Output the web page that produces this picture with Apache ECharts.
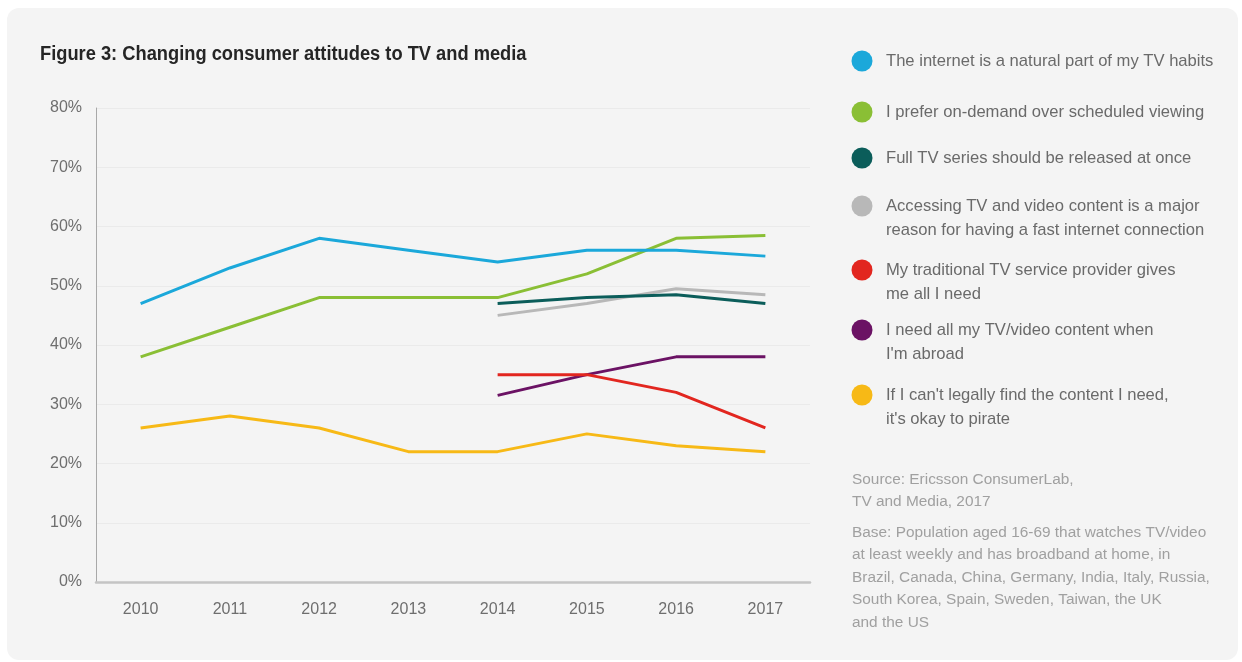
<!DOCTYPE html>
<html>
<head>
<meta charset="utf-8">
<title>Changing consumer attitudes to TV and media</title>
<script src="https://cdn.jsdelivr.net/npm/echarts@6/dist/echarts.min.js"></script>
<style>
  html, body { margin: 0; padding: 0; background: #ffffff; }
  #chart { width: 1242px; height: 662px; }
</style>
</head>
<body>
<div id="chart"></div>
<script>
// Survey years on the x axis
const years = ['2010', '2011', '2012', '2013', '2014', '2015', '2016', '2017'];

// Share of respondents agreeing with each statement (%)
const internetHabits   = [47, 53, 58, 56, 54, 56, 56, 55];
const onDemand         = [38, 43, 48, 48, 48, 52, 58, 58.5];
const fullSeries       = [null, null, null, null, 47, 48, 48.5, 47];
const fastConnection   = [null, null, null, null, 45, 47, 49.5, 48.5];
const traditionalTV    = [null, null, null, null, 35, 35, 32, 26];
const contentAbroad    = [null, null, null, null, 31.5, 35, 38, 38];
const okayToPirate     = [26, 28, 26, 22, 22, 25, 23, 22];

// Statement wording (legend), one entry per series
const statements = [
  'The internet is a natural part of my TV habits',
  'I prefer on-demand over scheduled viewing',
  'Full TV series should be released at once',
  'Accessing TV and video content is a major\nreason for having a fast internet connection',
  'My traditional TV service provider gives\nme all I need',
  'I need all my TV/video content when\nI\'m abroad',
  'If I can\'t legally find the content I need,\nit\'s okay to pirate'
];

const seriesData = [internetHabits, onDemand, fullSeries, fastConnection, traditionalTV, contentAbroad, okayToPirate];
const colors = ['#1ba8da', '#8abf35', '#0b5d5a', '#b8b8b8', '#e2261f', '#6b1264', '#f7b916'];

// Y axis range and step (%)
const yMin = 0, yMax = 80, yStep = 10;

const titleText = 'Figure 3: Changing consumer attitudes to TV and media';
const sourceText = 'Source: Ericsson ConsumerLab,\nTV and Media, 2017';
const baseText = 'Base: Population aged 16-69 that watches TV/video\nat least weekly and has broadband at home, in\nBrazil, Canada, China, Germany, India, Italy, Russia,\nSouth Korea, Spain, Sweden, Taiwan, the UK\nand the US';

const FONT = '"Liberation Sans", Arial, Helvetica, sans-serif';

// Legend rows: vertical centre of each entry's first line
const legendRowY = [61, 112, 158, 206, 270, 330, 395];

const chart = echarts.init(document.getElementById('chart'), null, { renderer: 'canvas' });

const graphics = [
  {
    type: 'rect',
    z: -10,
    silent: true,
    shape: { x: 7, y: 8, width: 1231, height: 652, r: 12 },
    style: { fill: '#f4f4f4' }
  },
  {
    type: 'text',
    x: 40, y: 54,
    scaleY: 1.1,
    style: {
      text: titleText,
      font: 'bold 18.3px ' + FONT,
      fill: '#252525',
      verticalAlign: 'middle'
    }
  },
  {
    type: 'text',
    x: 852, y: 468,
    style: {
      text: sourceText,
      font: '15.4px ' + FONT,
      fill: '#a0a0a0',
      lineHeight: 22.5,
      verticalAlign: 'top'
    }
  },
  {
    type: 'text',
    x: 852, y: 521,
    style: {
      text: baseText,
      font: '15.4px ' + FONT,
      fill: '#a0a0a0',
      lineHeight: 22.5,
      verticalAlign: 'top'
    }
  }
];

statements.forEach(function (label, i) {
  graphics.push({
    type: 'circle',
    shape: { cx: 862, cy: legendRowY[i], r: 10.5 },
    style: { fill: colors[i] }
  });
  graphics.push({
    type: 'text',
    x: 886, y: legendRowY[i] - 12,
    style: {
      text: label,
      font: '16.6px ' + FONT,
      fill: '#6a6a6a',
      lineHeight: 24,
      verticalAlign: 'top'
    }
  });
});

const option = {
  animation: false,
  backgroundColor: '#ffffff',
  textStyle: { fontFamily: FONT },
  grid: { left: 96, right: 432, top: 108, bottom: 80 },
  xAxis: {
    type: 'category',
    data: years,
    boundaryGap: true,
    axisLine: { show: true, lineStyle: { color: '#c4c4c4', width: 2.5 } },
    axisTick: { show: false },
    axisLabel: { color: '#6e6e6e', fontSize: 16, margin: 20 },
    splitLine: { show: false }
  },
  yAxis: {
    type: 'value',
    min: yMin,
    max: yMax,
    interval: yStep,
    axisLine: { show: true, lineStyle: { color: '#a8a8a8', width: 1 } },
    axisTick: { show: false },
    axisLabel: { color: '#6e6e6e', fontSize: 16, margin: 14, formatter: '{value}%' },
    splitLine: { show: true, lineStyle: { color: '#eaeaea', width: 1 } }
  },
  series: seriesData.map(function (values, i) {
    return {
      name: statements[i],
      type: 'line',
      data: values,
      symbol: 'none',
      connectNulls: false,
      lineStyle: { color: colors[i], width: 3 },
      itemStyle: { color: colors[i] },
      z: 10 - i
    };
  }),
  graphic: graphics
};

chart.setOption(option);
</script>
</body>
</html>
